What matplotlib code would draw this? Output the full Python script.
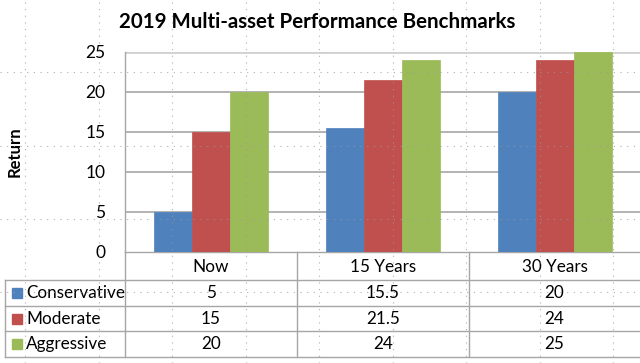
import matplotlib
matplotlib.use("Agg")
import matplotlib.pyplot as plt
from matplotlib.lines import Line2D
from matplotlib.patches import Rectangle
import numpy as np

plt.rcParams['font.family'] = ['Lato', 'DejaVu Sans']

categories = ["Now", "15 Years", "30 Years"]
series_names = ["Conservative", "Moderate", "Aggressive"]
conservative = [5, 15.5, 20]
moderate = [15, 21.5, 24]
aggressive = [20, 24, 25]
value_labels = [["5", "15.5", "20"], ["15", "21.5", "24"], ["20", "24", "25"]]
yticks = [0, 5, 10, 15, 20, 25]
colors = ["#4F81BD", "#C0504D", "#9BBB59"]

W, H = 640, 363
fig = plt.figure(figsize=(W / 100, H / 100), dpi=100)
fig.patch.set_facecolor("white")

def fx(px):
    return px / W

def fy(py):
    return 1 - py / H

ax_left, ax_right, ax_top, ax_bot = 125, 641, 52, 252
ax = fig.add_axes([fx(ax_left), fy(ax_bot), fx(ax_right - ax_left), (ax_bot - ax_top) / H])
ax.set_xlim(-0.5, 2.5)
ax.set_ylim(0, 25)

x = np.arange(len(categories))
bw = 0.222
for i, (vals, c) in enumerate(zip([conservative, moderate, aggressive], colors)):
    ax.bar(x + (i - 1) * bw, vals, bw, color=c, edgecolor=c, linewidth=0.5, zorder=3)

ax.set_yticks(yticks)
ax.set_yticklabels([str(t) for t in yticks], fontsize=12.5)
ax.tick_params(axis='y', length=0, pad=14)
ax.set_xticks([])
for yt in yticks[1:]:
    ax.axhline(yt, color="#a6a6a6" if yt != 25 else "#d0d0d0", linewidth=1.2 if yt != 25 else 2, zorder=1)
for s in ["top", "right"]:
    ax.spines[s].set_visible(False)
ax.spines["left"].set_color("#a6a6a6")
ax.spines["bottom"].set_color("#a6a6a6")
ax.spines["left"].set_linewidth(1)
ax.spines["bottom"].set_linewidth(1)

fig.text(fx(317), fy(22), "2019 Multi-asset Performance Benchmarks", ha="center", va="center",
         fontsize=14.8, fontweight="bold")
fig.text(fx(15), fy(152), "Return", rotation=90, ha="center", va="center", fontsize=12, fontweight="bold")

# data table below chart
tcol = "#a6a6a6"
rows_y = [252, 280, 306, 331, 357]
col_x = [5, 125, 297, 469, 640]
for i, yy in enumerate(rows_y[1:]):
    fig.add_artist(Line2D([fx(5), fx(640)], [fy(yy), fy(yy)], color=tcol, lw=1))
fig.add_artist(Line2D([fx(5), fx(5)], [fy(280), fy(357)], color=tcol, lw=1))
for cx in col_x[1:4]:
    fig.add_artist(Line2D([fx(cx), fx(cx)], [fy(252), fy(357)], color=tcol, lw=1))

for j, cat in enumerate(categories):
    cxp = (col_x[j + 1] + col_x[j + 2]) / 2
    fig.text(fx(cxp), fy(266.5), cat, ha="center", va="center", fontsize=12.3)
for i, name in enumerate(series_names):
    ycen = (rows_y[i + 1] + rows_y[i + 2]) / 2
    fig.add_artist(Rectangle((fx(12), fy(ycen + 5)), fx(10), 10 / H, color=colors[i]))
    fig.text(fx(26), fy(ycen), name, ha="left", va="center", fontsize=12.3)
    for j in range(3):
        cxp = (col_x[j + 1] + col_x[j + 2]) / 2
        fig.text(fx(cxp), fy(ycen), value_labels[i][j], ha="center", va="center", fontsize=12.3)

# spreadsheet dotted cell grid overlay
dot = dict(color="#9a9a9a", lw=0.8, linestyle=(0, (1, 5)), zorder=10, alpha=0.8)
for vx in [25, 98.5, 172, 245.5, 319, 392.5, 466, 539.5, 613]:
    fig.add_artist(Line2D([fx(vx), fx(vx)], [0, 1], **dot))
for hy in [72, 146, 219, 292]:
    fig.add_artist(Line2D([0, 1], [fy(hy), fy(hy)], **dot))

fig.savefig("out.png", dpi=100)
